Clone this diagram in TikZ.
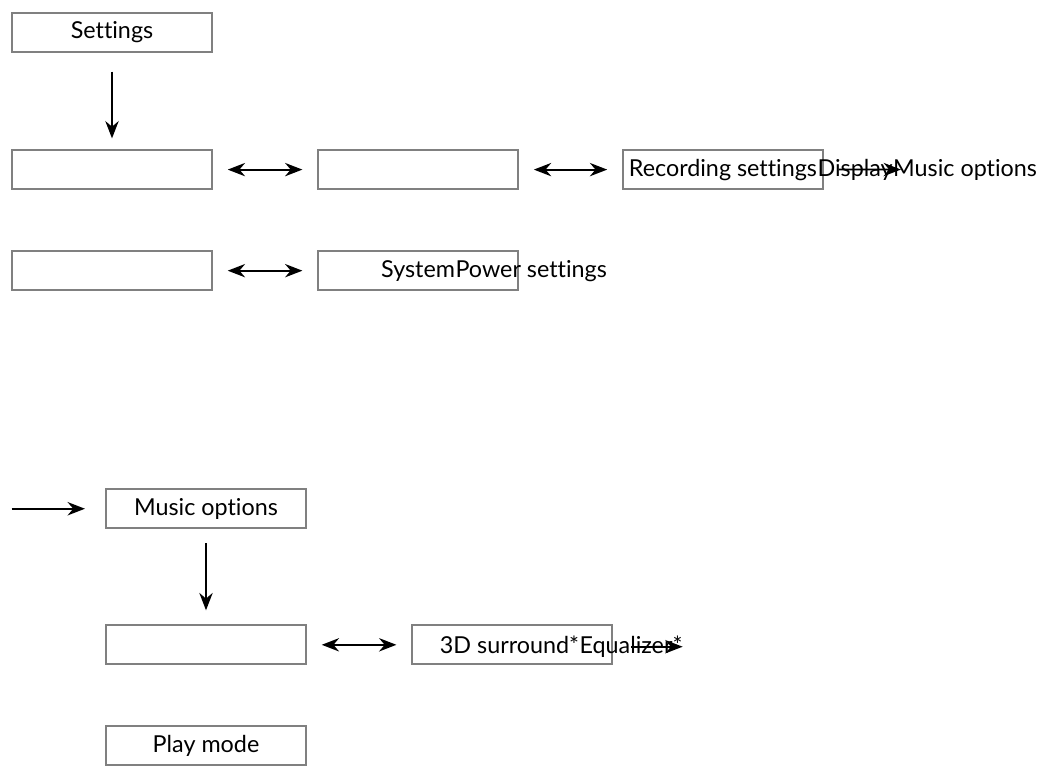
\documentclass[tikz,border=0pt]{standalone}
\usepackage{fontspec}
\setmainfont{Lato}[Ligatures=CommonOff]
\usepackage{tikz}
\usetikzlibrary{arrows.meta,positioning}
\definecolor{BoxGray}{RGB}{128,128,128}

\begin{document}
\begin{tikzpicture}[
  node distance = 78pt,
  menu/.style = {draw=BoxGray, line width=1.6pt,
                 minimum width=150pt, minimum height=29.2pt,
                 inner sep=0pt, font=\fontsize{17.5}{20}\selectfont},
  lbl/.style  = {inner sep=0pt, font=\fontsize{17.5}{20}\selectfont},
  arr/.style  = {-{Stealth[length=13pt,width=10pt]}, line width=1.4pt},
  darr/.style = {{Stealth[length=13pt,width=10pt]}-{Stealth[length=13pt,width=10pt]},
                 line width=1.4pt, shorten <=11pt, shorten >=11pt}
]
\useasboundingbox (0,0) rectangle (786.75pt,-581.25pt);
% top menu
\node[menu] (settings) at (84pt,-24.4pt) {Settings};
\node[menu, below=72pt of settings] (A) {};
\node[menu, right=of A] (B) {};
\node[menu, right=77pt of B] (C) {};
\node[menu, below=45pt of A] (D) {};
\node[menu, right=of D] (E) {};
\draw[arr, shorten <=14pt, shorten >=8pt] (settings) -- (A);
\draw[darr] (A) -- (B);
\draw[darr] (B) -- (C);
\draw[darr] (D) -- (E);
% overflowing labels
\node[lbl] (recT) at (C) {Recording settings};
\node[lbl, anchor=base west] (dispT) at (recT.base east) {Display};
\node[lbl, anchor=base west] (musT) at (dispT.base east) {Music options};
\coordinate[right=16pt of dispT.west] (dispL);
\coordinate[right=6pt of musT.west] (musL);
\draw[arr] (dispL) -- (musL);
\node[lbl] (sysT) at (E) {System};
\node[lbl, anchor=base west] (pwrT) at (sysT.base east) {Power settings};
% music options menu
\node[menu, below right=147.75pt and 70.5pt of D.south west] (music) {Music options};
\coordinate[left=70pt of music.west] (feed);
\draw[arr, shorten >=15pt] (feed) -- (music.west);
\node[menu, below=71.25pt of music] (F) {};
\node[menu, right=of F] (G) {};
\node[menu, below=45pt of F] (play) {Play mode};
\draw[arr, shorten <=10.5pt, shorten >=10.5pt] (music) -- (F);
\draw[darr] (F) -- (G);
\node[lbl, xshift=-2pt] (surT) at (G) {3D surround*};
\node[lbl, anchor=base west] (eqT) at (surT.base east) {Equalizer*};
\draw[arr] (eqT.center) -- (eqT.east);
\end{tikzpicture}
\end{document}
